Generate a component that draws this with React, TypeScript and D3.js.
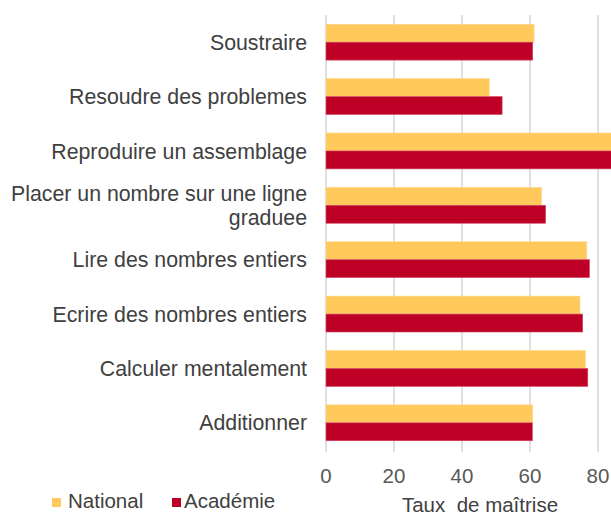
import React from "react";
import * as d3 from "d3";

const categories = [
  "Soustraire",
  "Resoudre des problemes",
  "Reproduire un assemblage",
  "Placer un nombre sur une ligne graduee",
  "Lire des nombres entiers",
  "Ecrire des nombres entiers",
  "Calculer mentalement",
  "Additionner",
];
const categoryLines: string[][] = [
  ["Soustraire"],
  ["Resoudre des problemes"],
  ["Reproduire un assemblage"],
  ["Placer un nombre sur une ligne", "graduee"],
  ["Lire des nombres entiers"],
  ["Ecrire des nombres entiers"],
  ["Calculer mentalement"],
  ["Additionner"],
];
const national = [61.2, 48.0, 86, 63.4, 76.7, 74.7, 76.3, 60.8];
const academie = [60.8, 51.8, 86, 64.6, 77.5, 75.5, 77.0, 60.7];
const xTicks = [0, 20, 40, 60, 80, 100];
const seriesNames = ["National", "Académie"];
const colors = ["#FFC95C", "#BE0027"];

const FONT = "'Liberation Sans', Arial, sans-serif";

export default function App() {
  const W = 611;
  const H = 514;
  const x = d3.scaleLinear().domain([0, 100]).range([326, 666]);
  const y = d3
    .scaleBand<string>()
    .domain(categories)
    .range([15, 450])
    .paddingInner(0.34)
    .paddingOuter(0.17);
  const sub = d3
    .scaleBand<number>()
    .domain([0, 1])
    .range([0, y.bandwidth()]);
  const series = [national, academie];

  return (
    <svg
      width={W}
      height={H}
      style={{ position: "absolute", left: 0, top: 0, background: "#fff" }}
      fontFamily={FONT}
    >
      {xTicks.map((t) => (
        <line
          key={"g" + t}
          x1={x(t)}
          x2={x(t)}
          y1={15}
          y2={452}
          stroke="#d9d9d9"
          strokeWidth={1.6}
        />
      ))}
      {categories.map((c, i) => (
        <g key={c}>
          {series.map((s, k) => (
            <rect
              key={k}
              x={x(0)}
              y={(y(c) as number) + (sub(k) as number)}
              width={x(s[i]) - x(0)}
              height={sub.bandwidth()}
              fill={colors[k]}
              stroke={k === 0 ? "#ffd98a" : "#d34a6a"}
              strokeWidth={0.6}
            />
          ))}
          {categoryLines[i].map((ln, j) => {
            const n = categoryLines[i].length;
            const cy = (y(c) as number) + y.bandwidth() / 2 + (j - (n - 1) / 2) * 24;
            return (
              <text
                key={j}
                x={307}
                y={cy}
                dy="0.36em"
                textAnchor="end"
                fontSize={21.3}
                fill="#404040"
              >
                {ln}
              </text>
            );
          })}
        </g>
      ))}
      {xTicks.map((t) => (
        <text
          key={"t" + t}
          x={x(t)}
          y={483}
          textAnchor="middle"
          fontSize={20.5}
          fill="#595959"
        >
          {t}
        </text>
      ))}
      <text
        x={480}
        y={512}
        textAnchor="middle"
        fontSize={20.5}
        fill="#404040"
        style={{ whiteSpace: "pre" }}
      >
        {"Taux  de maîtrise"}
      </text>
      {seriesNames.map((nm, k) => {
        const lx = k === 0 ? 52 : 172;
        return (
          <g key={nm}>
            <rect x={lx} y={498} width={9} height={9} fill={colors[k]} />
            <text x={lx + (k === 0 ? 16 : 12)} y={508} fontSize={20.5} fill="#404040">
              {nm}
            </text>
          </g>
        );
      })}
    </svg>
  );
}
